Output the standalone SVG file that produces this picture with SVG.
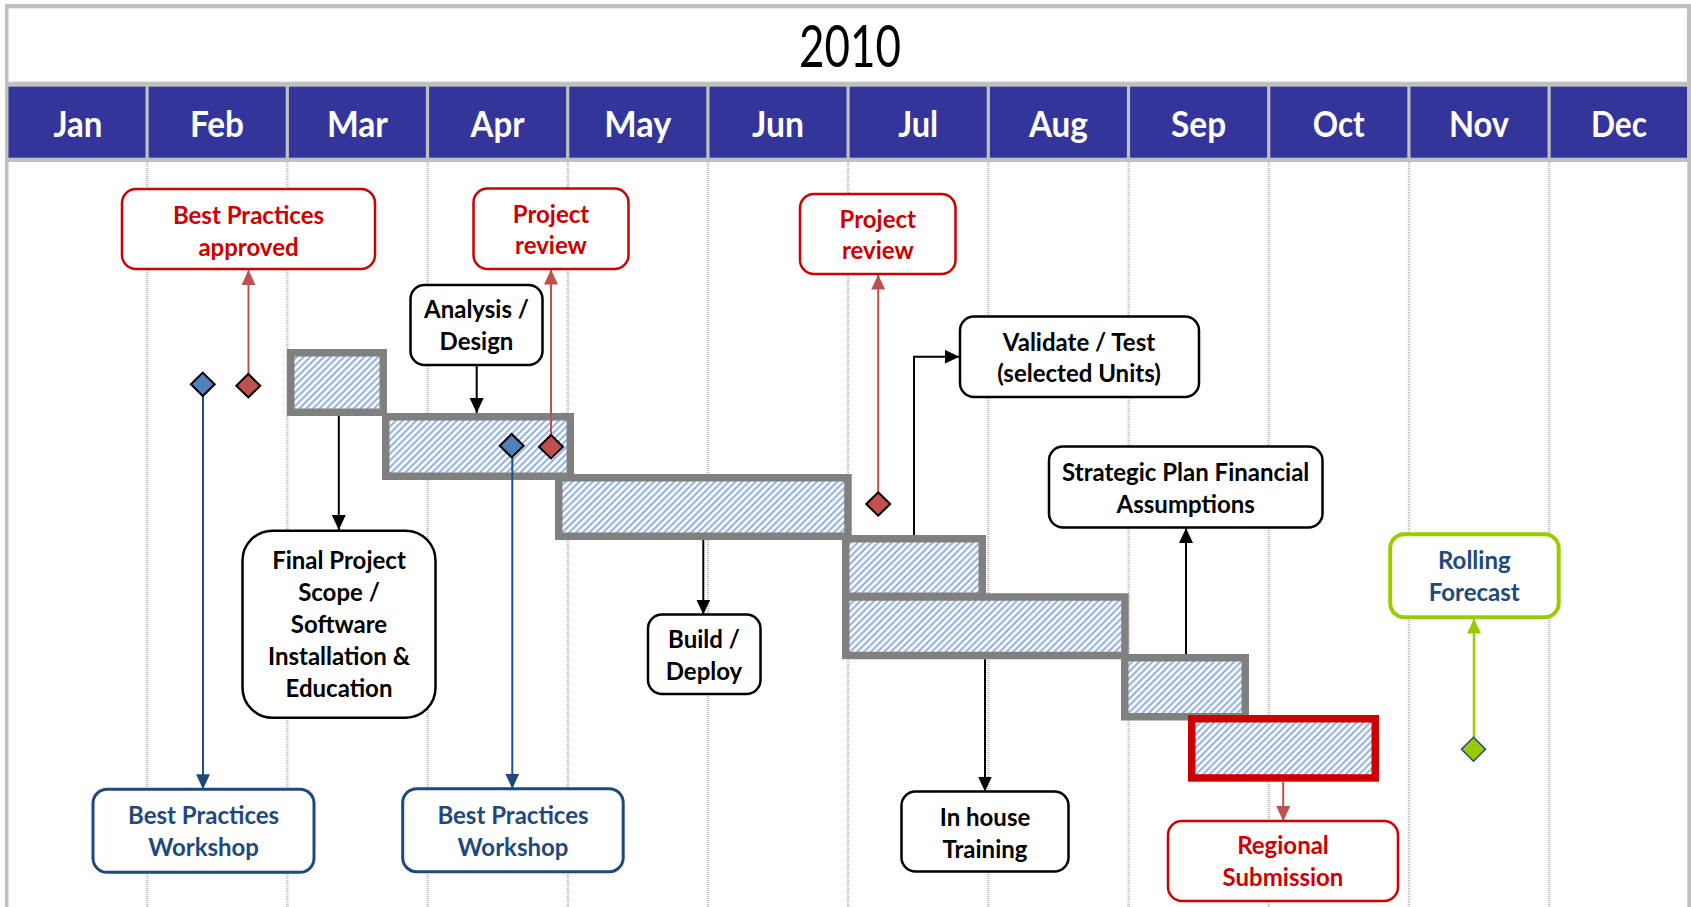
<svg xmlns="http://www.w3.org/2000/svg" width="1691" height="907" viewBox="0 0 1691 907">
<style>
.t{font-family:Lato,"Open Sans","Liberation Sans",sans-serif;font-weight:700;font-size:24px;text-anchor:middle}
.mo{font-family:Lato,"Open Sans","Liberation Sans",sans-serif;font-weight:700;font-size:37px;fill:#fff;text-anchor:middle}
.cell{fill:#34359a}
.grid{stroke:#bfbfbf;stroke-width:2.5;stroke-dasharray:1 1;fill:none}
.bar{fill:url(#hatch);stroke:#808080;stroke-width:7.5}
.barR{fill:url(#hatch);stroke:#cc0000;stroke-width:7.5}
.bxK{fill:#fff;stroke:#000;stroke-width:2.5}
.bxR{fill:#fff;stroke:#cc0000;stroke-width:2.5}
.bxB{fill:#fff;stroke:#1f497d;stroke-width:3}
.bxG{fill:#fff;stroke:#99cc00;stroke-width:4}
.cK{stroke:#000;stroke-width:2;fill:none;marker-end:url(#aK)}
.cR{stroke:#c0504d;stroke-width:2;fill:none;marker-end:url(#aR)}
.cB{stroke:#1f4e8c;stroke-width:2;fill:none;marker-end:url(#aB)}
.cG{stroke:#99cc00;stroke-width:2.5;fill:none;marker-end:url(#aG)}
.dR{fill:#c0504d;stroke:#000;stroke-width:2}
.dB{fill:#4f81bd;stroke:#000;stroke-width:2}
.dG{fill:#99cc00;stroke:#1f497d;stroke-width:1.5}
.red{fill:#cc0000}.blk{fill:#000}.blu{fill:#1f497d}
</style>
<defs>
<pattern id="hatch" patternUnits="userSpaceOnUse" width="4.8" height="10" patternTransform="rotate(45)">
<rect width="4.8" height="10" fill="#fff"/>
<line x1="1.4" y1="0" x2="1.4" y2="10" stroke="#7fa3d8" stroke-width="1.8"/>
</pattern>
<marker id="aK" markerUnits="userSpaceOnUse" markerWidth="15" markerHeight="14" refX="15" refY="7" orient="auto"><path d="M0,0 L15,7 L0,14 z" fill="#000"/></marker>
<marker id="aR" markerUnits="userSpaceOnUse" markerWidth="15" markerHeight="14" refX="15" refY="7" orient="auto"><path d="M0,0 L15,7 L0,14 z" fill="#c0504d"/></marker>
<marker id="aB" markerUnits="userSpaceOnUse" markerWidth="15" markerHeight="14" refX="15" refY="7" orient="auto"><path d="M0,0 L15,7 L0,14 z" fill="#1f497d"/></marker>
<marker id="aG" markerUnits="userSpaceOnUse" markerWidth="15" markerHeight="14" refX="15" refY="7" orient="auto"><path d="M0,0 L15,7 L0,14 z" fill="#99cc00"/></marker>
</defs>
<rect width="1691" height="907" fill="#fff"/>
<g id="frame">
<rect x="5" y="4" width="1686" height="158" fill="#c0c0c0"/>
<rect x="8.5" y="8.3" width="1678.5" height="73.4" fill="#fff"/>
<rect x="5" y="162" width="3.5" height="745" fill="#c0c0c0"/>
<rect x="1687.3" y="162" width="3.7" height="745" fill="#c0c0c0"/>
<text x="850" y="67" font-family="Lato,'Open Sans','Liberation Sans',sans-serif" font-size="58" text-anchor="middle" fill="#000" textLength="102" lengthAdjust="spacingAndGlyphs">2010</text>
</g>
<g id="months">
<rect class="cell" x="8.5" y="86.7" width="137" height="71"/>
<rect class="cell" x="148.7" y="86.7" width="137" height="71"/>
<rect class="cell" x="288.9" y="86.7" width="137" height="71"/>
<rect class="cell" x="429.1" y="86.7" width="137" height="71"/>
<rect class="cell" x="569.3" y="86.7" width="137" height="71"/>
<rect class="cell" x="709.5" y="86.7" width="137" height="71"/>
<rect class="cell" x="849.7" y="86.7" width="137" height="71"/>
<rect class="cell" x="989.9" y="86.7" width="137" height="71"/>
<rect class="cell" x="1130.1" y="86.7" width="137" height="71"/>
<rect class="cell" x="1270.3" y="86.7" width="137" height="71"/>
<rect class="cell" x="1410.5" y="86.7" width="137" height="71"/>
<rect class="cell" x="1550.7" y="86.7" width="136.3" height="71"/>
<text class="mo" x="78" y="137" textLength="49" lengthAdjust="spacingAndGlyphs">Jan</text>
<text class="mo" x="217" y="137" textLength="54" lengthAdjust="spacingAndGlyphs">Feb</text>
<text class="mo" x="357.4" y="137" textLength="61" lengthAdjust="spacingAndGlyphs">Mar</text>
<text class="mo" x="497.6" y="137" textLength="54" lengthAdjust="spacingAndGlyphs">Apr</text>
<text class="mo" x="637.8" y="137" textLength="67" lengthAdjust="spacingAndGlyphs">May</text>
<text class="mo" x="778" y="137" textLength="52" lengthAdjust="spacingAndGlyphs">Jun</text>
<text class="mo" x="918.2" y="137" textLength="40" lengthAdjust="spacingAndGlyphs">Jul</text>
<text class="mo" x="1058.4" y="137" textLength="59" lengthAdjust="spacingAndGlyphs">Aug</text>
<text class="mo" x="1198.6" y="137" textLength="55" lengthAdjust="spacingAndGlyphs">Sep</text>
<text class="mo" x="1338.8" y="137" textLength="52" lengthAdjust="spacingAndGlyphs">Oct</text>
<text class="mo" x="1479" y="137" textLength="60" lengthAdjust="spacingAndGlyphs">Nov</text>
<text class="mo" x="1619" y="137" textLength="56" lengthAdjust="spacingAndGlyphs">Dec</text>
</g>
<g id="grid">
<line class="grid" x1="147.2" y1="162" x2="147.2" y2="907"/>
<line class="grid" x1="287.4" y1="162" x2="287.4" y2="907"/>
<line class="grid" x1="427.6" y1="162" x2="427.6" y2="907"/>
<line class="grid" x1="567.8" y1="162" x2="567.8" y2="907"/>
<line class="grid" x1="708" y1="162" x2="708" y2="907"/>
<line class="grid" x1="848.2" y1="162" x2="848.2" y2="907"/>
<line class="grid" x1="988.4" y1="162" x2="988.4" y2="907"/>
<line class="grid" x1="1128.6" y1="162" x2="1128.6" y2="907"/>
<line class="grid" x1="1268.8" y1="162" x2="1268.8" y2="907"/>
<line class="grid" x1="1409" y1="162" x2="1409" y2="907"/>
<line class="grid" x1="1549.2" y1="162" x2="1549.2" y2="907"/>
</g>
<g id="bars">
<rect id="bar1" class="bar" x="290.75" y="352.75" width="92.5" height="59.5"/>
<rect id="bar2" class="bar" x="385.75" y="416.75" width="184.5" height="59.5"/>
<rect id="bar3" class="bar" x="558.75" y="477.75" width="289.2" height="58.5"/>
<rect id="bar4" class="bar" x="845.75" y="538.75" width="136.5" height="57.5"/>
<rect id="bar5" class="bar" x="845.75" y="597" width="279.2" height="58.5"/>
<rect id="bar6" class="bar" x="1124.75" y="657.75" width="120.5" height="59"/>
<rect id="bar7" class="barR" x="1191.75" y="718.75" width="183.5" height="59.2"/>
</g>
<g id="connectors">
<path class="cK" d="M476.7,365 V413"/>
<path class="cK" d="M338.8,416 V530"/>
<path class="cK" d="M703.3,540 V614.5"/>
<path class="cK" d="M914,535 V356.7 H959.5"/>
<path class="cK" d="M985,659.3 V791.5"/>
<path class="cK" d="M1186,654 V528"/>
<path class="cR" d="M248.5,374 V270"/>
<path class="cR" d="M551,435 V269.5"/>
<path class="cR" d="M878.2,492.5 V274.5"/>
<path class="cR" d="M1283.2,781.7 V821"/>
<path class="cB" d="M203,396 V789.3"/>
<path class="cB" d="M512.3,457 V788.7"/>
<path class="cG" d="M1474,737 V618.5"/>
</g>
<g id="milestones">
<polygon class="dB" points="202.8,372.6 214.7,384.3 202.8,396 190.9,384.3"/>
<polygon class="dR" points="248.3,374 260.3,385.7 248.3,397.4 236.3,385.7"/>
<polygon class="dB" points="511.7,434 523.6,445.7 511.7,457.4 499.8,445.7"/>
<polygon class="dR" points="551,435 563,446.7 551,458.4 539,446.7"/>
<polygon class="dR" points="878.2,492.3 890.2,504 878.2,515.7 866.2,504"/>
<polygon class="dG" points="1473.5,737.3 1485.5,749.3 1473.5,761.3 1461.5,749.3"/>
</g>
<g id="n-approved">
<rect class="bxR" x="122" y="189" width="253" height="80" rx="14"/>
<text class="t red" x="248.5" y="224">Best Practices</text>
<text class="t red" x="248.5" y="256">approved</text>
</g>
<g id="n-review1">
<rect class="bxR" x="473.5" y="188.5" width="155" height="80.5" rx="14"/>
<text class="t red" x="551" y="222.5">Project</text>
<text class="t red" x="551" y="254.3">review</text>
</g>
<g id="n-review2">
<rect class="bxR" x="800" y="194" width="155.5" height="80" rx="14"/>
<text class="t red" x="877.8" y="227.5">Project</text>
<text class="t red" x="877.8" y="259.3">review</text>
</g>
<g id="n-regional">
<rect class="bxR" x="1168" y="821" width="230" height="80" rx="14"/>
<text class="t red" x="1283" y="854.3">Regional</text>
<text class="t red" x="1283" y="886">Submission</text>
</g>
<g id="n-analysis">
<rect class="bxK" x="410.5" y="285" width="132" height="80" rx="14"/>
<text class="t blk" x="476.5" y="317.7">Analysis /</text>
<text class="t blk" x="476.5" y="350">Design</text>
</g>
<g id="n-validate">
<rect class="bxK" x="960" y="316.5" width="239" height="80.5" rx="14"/>
<text class="t blk" x="1079" y="350.5">Validate / Test</text>
<text class="t blk" x="1079" y="382">(selected Units)</text>
</g>
<g id="n-strategic">
<rect class="bxK" x="1049" y="446.5" width="273.5" height="81" rx="14"/>
<text class="t blk" x="1185.7" y="480.5">Strategic Plan Financial</text>
<text class="t blk" x="1185.7" y="512.5">Assumptions</text>
</g>
<g id="n-final">
<rect class="bxK" x="242.5" y="530.7" width="193" height="187" rx="30"/>
<text class="t blk" x="339" y="569">Final Project</text>
<text class="t blk" x="339" y="601">Scope /</text>
<text class="t blk" x="339" y="633.3">Software</text>
<text class="t blk" x="339" y="665">Installation &amp;</text>
<text class="t blk" x="339" y="697">Education</text>
</g>
<g id="n-build">
<rect class="bxK" x="648" y="614.5" width="112.5" height="79.5" rx="14"/>
<text class="t blk" x="704" y="647.5">Build /</text>
<text class="t blk" x="704" y="679.5">Deploy</text>
</g>
<g id="n-inhouse">
<rect class="bxK" x="901.5" y="791.5" width="167" height="80" rx="14"/>
<text class="t blk" x="985" y="825.5">In house</text>
<text class="t blk" x="985" y="857.5">Training</text>
</g>
<g id="n-bpw1">
<rect class="bxB" x="93" y="789.3" width="221" height="83" rx="14"/>
<text class="t blu" x="203.6" y="824">Best Practices</text>
<text class="t blu" x="203.6" y="856">Workshop</text>
</g>
<g id="n-bpw2">
<rect class="bxB" x="402.7" y="788.7" width="220.5" height="83" rx="14"/>
<text class="t blu" x="513" y="823.7">Best Practices</text>
<text class="t blu" x="513" y="855.7">Workshop</text>
</g>
<g id="n-rolling">
<rect class="bxG" x="1390.2" y="534.3" width="168.5" height="83" rx="14"/>
<text class="t blu" x="1474.3" y="569">Rolling</text>
<text class="t blu" x="1474.3" y="601">Forecast</text>
</g>
</svg>
